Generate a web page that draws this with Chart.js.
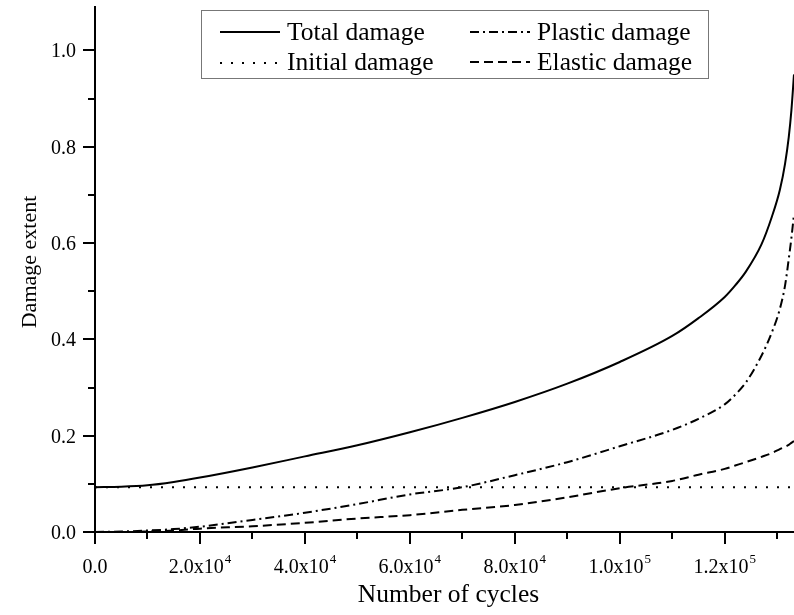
<!DOCTYPE html>
<html lang="en">
<head>
  <meta charset="UTF-8">
  <title>Damage extent vs number of cycles</title>
  <script src="https://cdn.jsdelivr.net/npm/chart.js"></script>
  <style>
    html, body {
      margin: 0;
      padding: 0;
      background: #fff;
    }
    canvas {
      display: block;
    }
  </style>
</head>
<body>
  <canvas id="damageChart" width="794" height="615"></canvas>

  <script>
    const SERIF = "'Liberation Serif', 'Times New Roman', serif";

    // cycle counts where the damage curves were sampled
    const cycles = [0, 5000, 10000, 15000, 20000, 30000, 40000, 50000, 60000, 70000,
      80000, 90000, 100000, 110000, 115000, 120000, 122000, 124000, 127000, 129000,
      130500, 131500, 132200, 132700, 133200];

    const totalDamage = [0.093, 0.094, 0.097, 0.104, 0.113, 0.134, 0.157, 0.180, 0.207, 0.237,
      0.270, 0.308, 0.353, 0.407, 0.444, 0.488, 0.512, 0.540, 0.597, 0.655,
      0.710, 0.765, 0.820, 0.875, 0.950];

    const plasticDamage = [0, 0.001, 0.003, 0.006, 0.011, 0.025, 0.040, 0.058, 0.078, 0.093,
      0.118, 0.145, 0.178, 0.212, 0.235, 0.265, 0.285, 0.310, 0.366, 0.415,
      0.463, 0.512, 0.567, 0.610, 0.660];

    const elasticDamage = [0, 0, 0.001, 0.003, 0.007, 0.012, 0.019, 0.028, 0.035, 0.046,
      0.056, 0.072, 0.091, 0.106, 0.119, 0.131, 0.138, 0.145, 0.156, 0.164,
      0.172, 0.177, 0.181, 0.185, 0.189];

    const initialCycles = [0, 133200];
    const initialDamage = [0.093, 0.093];

    const yTicks = [0, 0.2, 0.4, 0.6, 0.8, 1.0];
    const yMinorTicks = [0.1, 0.3, 0.5, 0.7, 0.9];
    const xTicks = [0, 20000, 40000, 60000, 80000, 100000, 120000];
    const xMinorTicks = [10000, 30000, 50000, 70000, 90000, 110000, 130000];
    // mantissa text and power-of-ten exponent for each x tick label
    const xTickMantissa = ['0.0', '2.0x10', '4.0x10', '6.0x10', '8.0x10', '1.0x10', '1.2x10'];
    const xTickExponent = ['', '4', '4', '4', '4', '5', '5'];

    const pairs = (xs, ys) => xs.map((x, i) => ({ x: x, y: ys[i] }));

    // outside tick marks, tick labels and axis titles
    const axisDecor = {
      id: 'axisDecor',
      afterDraw(chart) {
        const { ctx, chartArea: a, scales: { x, y } } = chart;
        ctx.save();
        ctx.strokeStyle = '#000';
        ctx.fillStyle = '#000';
        ctx.lineWidth = 2;

        const tick = (x1, y1, x2, y2) => {
          ctx.beginPath();
          ctx.moveTo(x1, y1);
          ctx.lineTo(x2, y2);
          ctx.stroke();
        };

        yTicks.forEach(v => { const p = Math.round(y.getPixelForValue(v)); tick(a.left - 12, p, a.left, p); });
        yMinorTicks.forEach(v => { const p = Math.round(y.getPixelForValue(v)); tick(a.left - 7, p, a.left, p); });
        xTicks.forEach(v => { const p = Math.round(x.getPixelForValue(v)); tick(p, a.bottom, p, a.bottom + 12); });
        xMinorTicks.forEach(v => { const p = Math.round(x.getPixelForValue(v)); tick(p, a.bottom, p, a.bottom + 7); });

        // y tick labels
        ctx.font = '20px ' + SERIF;
        ctx.textAlign = 'right';
        ctx.textBaseline = 'alphabetic';
        yTicks.forEach(v => {
          ctx.fillText(v.toFixed(1), a.left - 19, y.getPixelForValue(v) + 7);
        });

        // x tick labels with a raised exponent
        ctx.textAlign = 'left';
        xTicks.forEach((v, i) => {
          ctx.font = '20px ' + SERIF;
          const mw = ctx.measureText(xTickMantissa[i]).width;
          ctx.font = '13px ' + SERIF;
          const ew = xTickExponent[i] ? ctx.measureText(xTickExponent[i]).width + 1 : 0;
          const left = x.getPixelForValue(v) - (mw + ew) / 2;
          ctx.font = '20px ' + SERIF;
          ctx.fillText(xTickMantissa[i], left, a.bottom + 41);
          if (ew) {
            ctx.font = '13px ' + SERIF;
            ctx.fillText(xTickExponent[i], left + mw + 1, a.bottom + 31);
          }
        });

        // axis titles
        ctx.font = '25.5px ' + SERIF;
        ctx.textAlign = 'center';
        ctx.fillText('Number of cycles', (a.left + a.right) / 2 + 4, 602);

        ctx.save();
        ctx.translate(36, 262);
        ctx.rotate(-Math.PI / 2);
        ctx.font = '22px ' + SERIF;
        ctx.fillText('Damage extent', 0, 0);
        ctx.restore();

        ctx.restore();
      }
    };

    // boxed two-column legend with line samples
    const legendBox = {
      id: 'legendBox',
      afterDatasetsDraw(chart) {
        const ctx = chart.ctx;
        const items = chart.data.datasets;
        const spots = [
          { lx: 220, tx: 287, ly: 32, ty: 40 },
          { lx: 220, tx: 287, ly: 63, ty: 70 },
          { lx: 470, tx: 537, ly: 32, ty: 40 },
          { lx: 470, tx: 537, ly: 62, ty: 70 }
        ];
        ctx.save();
        ctx.fillStyle = '#fff';
        ctx.fillRect(201, 10, 507, 68);
        ctx.strokeStyle = '#777';
        ctx.lineWidth = 1;
        ctx.strokeRect(201.5, 10.5, 507, 68);

        items.forEach((ds, i) => {
          const s = spots[i];
          ctx.strokeStyle = '#000';
          ctx.lineWidth = 2;
          ctx.setLineDash(ds.borderDash || []);
          ctx.beginPath();
          ctx.moveTo(s.lx, s.ly);
          ctx.lineTo(s.lx + 60, s.ly);
          ctx.stroke();
          ctx.setLineDash([]);
          ctx.fillStyle = '#000';
          ctx.font = '25.5px ' + SERIF;
          ctx.textAlign = 'left';
          ctx.textBaseline = 'alphabetic';
          ctx.fillText(ds.label, s.tx, s.ty);
        });
        ctx.restore();
      }
    };

    const lineStyle = {
      borderColor: '#000',
      borderWidth: 2,
      pointRadius: 0,
      fill: false,
      cubicInterpolationMode: 'monotone'
    };

    const ctx = document.getElementById('damageChart').getContext('2d');
    new Chart(ctx, {
      type: 'line',
      data: {
        datasets: [
          Object.assign({ label: 'Total damage', data: pairs(cycles, totalDamage) }, lineStyle),
          Object.assign({ label: 'Initial damage', data: pairs(initialCycles, initialDamage), borderDash: [2, 9] }, lineStyle),
          Object.assign({ label: 'Plastic damage', data: pairs(cycles, plasticDamage), borderDash: [9, 4, 2, 4] }, lineStyle),
          Object.assign({ label: 'Elastic damage', data: pairs(cycles, elasticDamage), borderDash: [9, 5] }, lineStyle)
        ]
      },
      options: {
        responsive: false,
        animation: false,
        devicePixelRatio: 1,
        layout: { padding: { top: 7, right: 0, bottom: 0, left: 0 } },
        plugins: {
          legend: { display: false },
          tooltip: { enabled: false }
        },
        scales: {
          x: {
            type: 'linear',
            min: 0,
            max: 133200,
            grid: { display: false },
            border: { display: true, color: '#000', width: 2 },
            ticks: { display: false },
            afterFit(scale) { scale.height = 83; }
          },
          y: {
            min: 0,
            max: 1.09,
            grid: { display: false },
            border: { display: true, color: '#000', width: 2 },
            ticks: { display: false },
            afterFit(scale) { scale.width = 95; }
          }
        }
      },
      plugins: [axisDecor, legendBox]
    });
  </script>
</body>
</html>
